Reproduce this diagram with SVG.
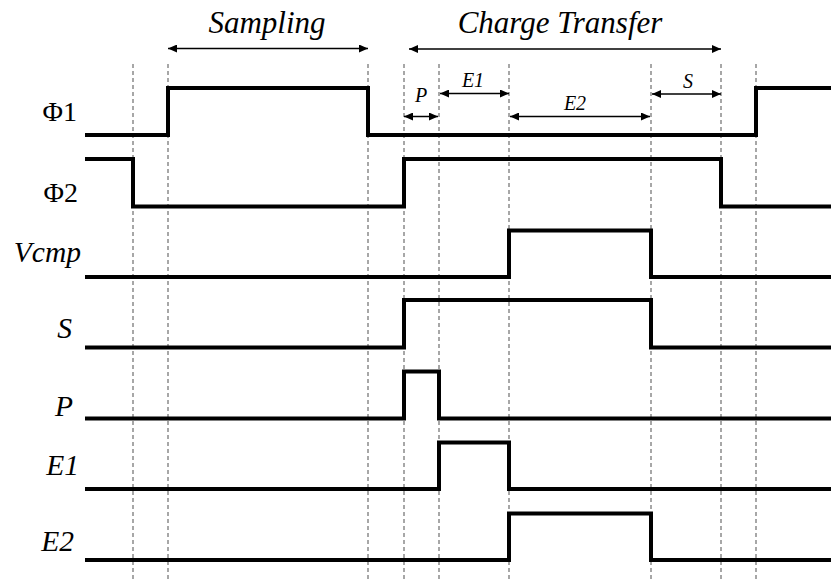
<svg xmlns="http://www.w3.org/2000/svg" width="831" height="582" viewBox="0 0 831 582">
<defs>
<marker id="ah" viewBox="0 0 9 8" refX="9" refY="4" markerWidth="9" markerHeight="8" markerUnits="userSpaceOnUse" orient="auto-start-reverse">
<path d="M0,0 L9,4 L0,8 Z" fill="#000"/>
</marker>
</defs>
<style>
.grid{stroke:#8a8a8a;stroke-width:1.5;stroke-dasharray:4 3;fill:none}
.sig{stroke:#000;stroke-width:4;fill:none;stroke-linejoin:miter;stroke-linecap:butt}
.arr{stroke:#000;stroke-width:1.6;fill:none;marker-start:url(#ah);marker-end:url(#ah)}
text{font-family:'Liberation Serif','Times New Roman',serif;fill:#000}
.lbl{font-size:28px;text-anchor:end}
.it{font-style:italic;font-size:29.5px}
.hdr{font-style:italic;font-size:31px;text-anchor:middle}
.sub{font-style:italic;font-size:20px;text-anchor:middle}
</style>
<rect width="831" height="582" fill="#fff"/>
<g id="grid">
<line class="grid" x1="133" y1="64" x2="133" y2="582"/>
<line class="grid" x1="168" y1="64" x2="168" y2="582"/>
<line class="grid" x1="368" y1="64" x2="368" y2="582"/>
<line class="grid" x1="404" y1="64" x2="404" y2="582"/>
<line class="grid" x1="439" y1="64" x2="439" y2="582"/>
<line class="grid" x1="509" y1="64" x2="509" y2="582"/>
<line class="grid" x1="651" y1="64" x2="651" y2="582"/>
<line class="grid" x1="721" y1="64" x2="721" y2="582"/>
<line class="grid" x1="756" y1="64" x2="756" y2="582"/>
</g>
<g id="phase-labels">
<text class="hdr" x="267" y="33">Sampling</text>
<text class="hdr" x="560" y="33">Charge Transfer</text>
<text class="sub" x="421" y="102">P</text>
<text class="sub" x="473" y="87">E1</text>
<text class="sub" x="575" y="110">E2</text>
<text class="sub" x="688" y="88">S</text>
</g>
<g id="connectors">
<line class="arr" x1="168" y1="48.5" x2="368" y2="48.5"/>
<line class="arr" x1="409" y1="49" x2="721" y2="49"/>
<line class="arr" x1="404" y1="116.5" x2="438" y2="116.5"/>
<line class="arr" x1="440" y1="93.5" x2="509" y2="93.5"/>
<line class="arr" x1="510" y1="116.5" x2="650" y2="116.5"/>
<line class="arr" x1="652" y1="94" x2="721" y2="94"/>
</g>
<g id="sig-phi1">
<text class="lbl" x="77" y="121">Φ1</text>
<polyline class="sig" points="85,135 168,135 168,88 368,88 368,135 756,135 756,88 831,88"/>
</g>
<g id="sig-phi2">
<text class="lbl" x="78" y="202">Φ2</text>
<polyline class="sig" points="85,159 133,159 133,206.5 404,206.5 404,159 721,159 721,206.5 831,206.5"/>
</g>
<g id="sig-vcmp">
<text class="lbl it" x="81" y="262">Vcmp</text>
<polyline class="sig" points="85,277 509,277 509,230.5 651,230.5 651,277 831,277"/>
</g>
<g id="sig-s">
<text class="lbl it" x="72" y="338">S</text>
<polyline class="sig" points="85,347.5 404,347.5 404,300 651,300 651,347.5 831,347.5"/>
</g>
<g id="sig-p">
<text class="lbl it" x="73" y="416">P</text>
<polyline class="sig" points="85,418.5 404,418.5 404,371.5 439,371.5 439,418.5 831,418.5"/>
</g>
<g id="sig-e1">
<text class="lbl it" x="79" y="475">E1</text>
<polyline class="sig" points="85,489 439,489 439,442.5 509,442.5 509,489 831,489"/>
</g>
<g id="sig-e2">
<text class="lbl it" x="74" y="551">E2</text>
<polyline class="sig" points="85,560 509,560 509,513.5 651,513.5 651,560 831,560"/>
</g>
</svg>
